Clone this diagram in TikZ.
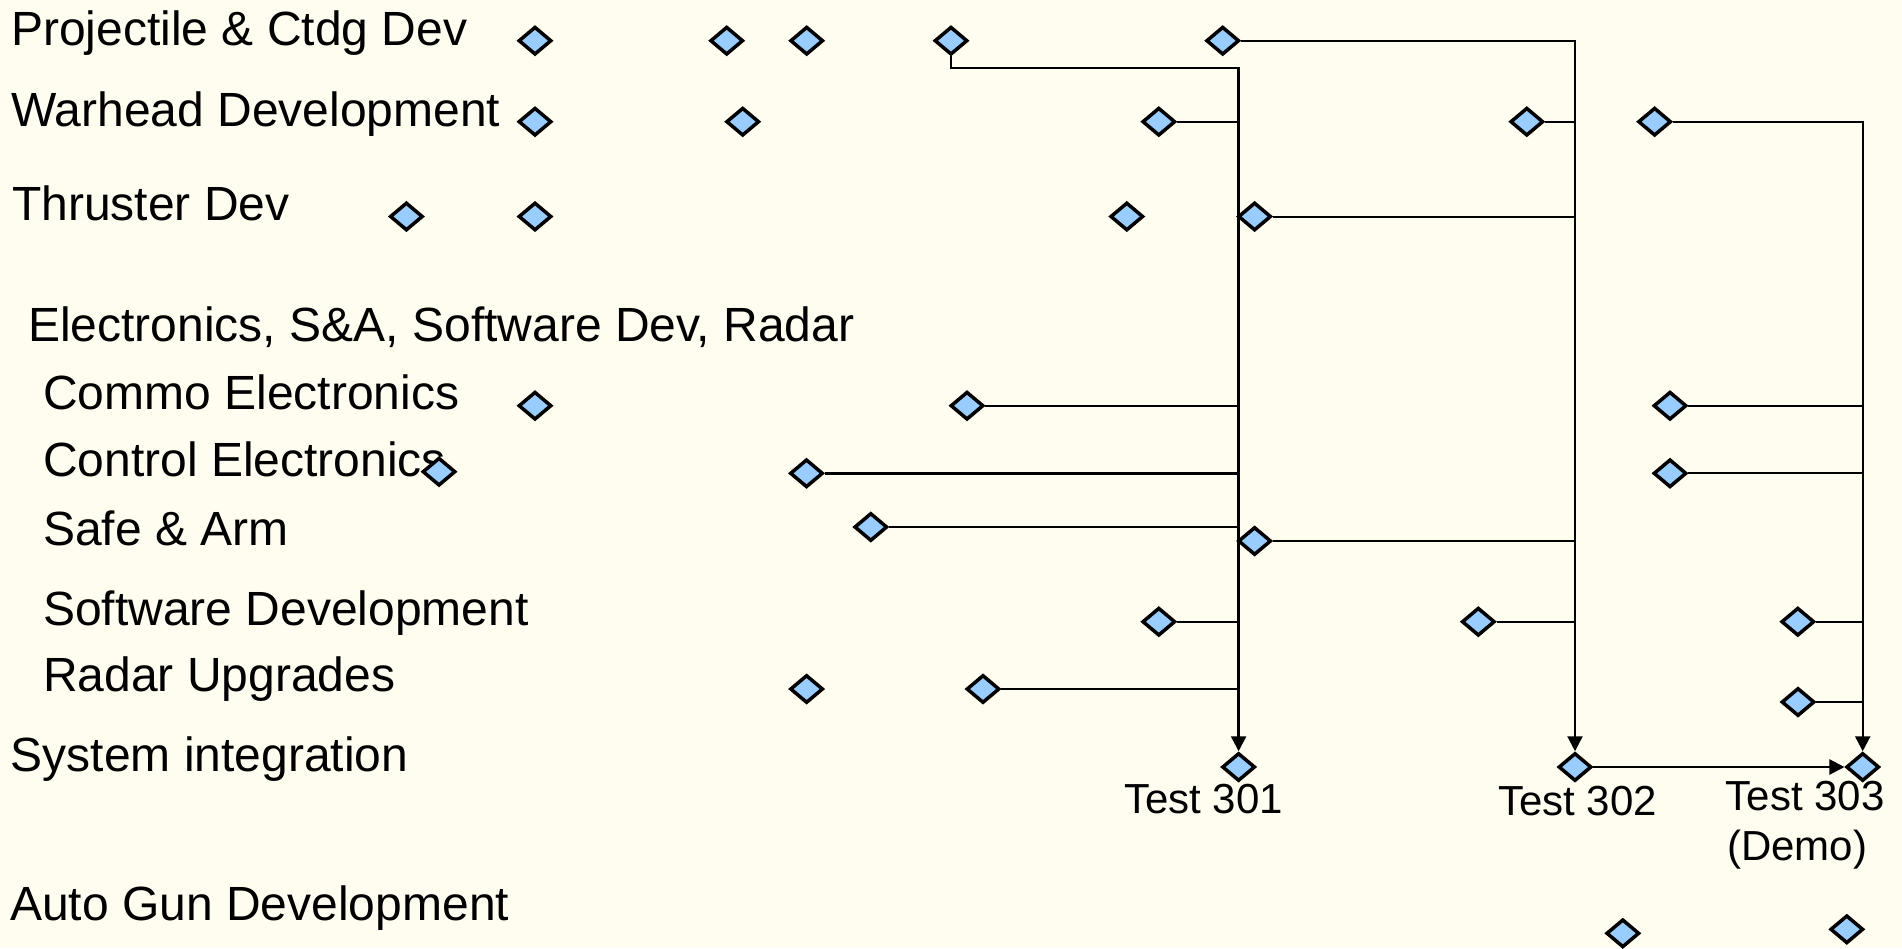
\documentclass[tikz,border=0pt]{standalone}
\usepackage{fontspec}
\setmainfont{Liberation Sans}
\usetikzlibrary{shapes.geometric,arrows.meta}
\pgfdeclarelayer{background}
\pgfsetlayers{background,main}
\definecolor{paper}{RGB}{255,252,240}
\definecolor{milefill}{RGB}{153,204,255}

\begin{document}
\begin{tikzpicture}[x=1pt,y=-1pt,
  mile/.style={diamond,draw=black,fill=milefill,line width=3.5pt,inner sep=0pt,
               minimum width=33pt,minimum height=28pt},
  lbl/.style={anchor=base west,inner sep=0pt,font=\fontsize{48}{56}\selectfont},
  tlbl/.style={anchor=base west,inner sep=0pt,font=\fontsize{42}{48}\selectfont},
  link/.style={line width=2pt},
  heavy/.style={line width=2.8pt},
  feed/.style={line width=2.3pt,-{Triangle[length=15pt,width=15pt]}},
]
\path[use as bounding box] (0,0) rectangle (1902,948);

% row labels
\node[lbl] (lp) at (11,45)  {Projectile \& Ctdg Dev};
\node[lbl] (lw) at (11,126) {Warhead Development};
\node[lbl] (lh) at (12,220)   {Thruster Dev};
\node[lbl] (le) at (28,341.7) {Electronics, S\&A, Software Dev, Radar};
\node[lbl] (lc) at (43,409.3) {Commo Electronics};
\node[lbl] (lk) at (43,476)   {Control Electronics};
\node[lbl] (ls) at (43,545)   {Safe \& Arm};
\node[lbl] (lf) at (43,625)   {Software Development};
\node[lbl] (lr) at (43,691.7) {Radar Upgrades};
\node[lbl] (li) at (10.5,771.7) {System integration};
\node[lbl] (la) at (10,920.7) {Auto Gun Development};

% milestones
\node[mile] (p1) at (535,40.7) {};
\node[mile] (p2) at (726.7,40.7) {};
\node[mile] (p3) at (806.7,40.7) {};
\node[mile] (p4) at (951,40.7) {};
\node[mile] (p5) at (1222.7,40.7) {};

\node[mile] (w1) at (535,121.7) {};
\node[mile] (w2) at (742.7,121.7) {};
\node[mile] (w3) at (1158.8,121.7) {};
\node[mile] (w4) at (1526.8,121.7) {};
\node[mile] (w5) at (1654.6,121.7) {};

\node[mile] (h1) at (406.4,216.5) {};
\node[mile] (h2) at (535,216.5) {};
\node[mile] (h3) at (1126.8,216.5) {};
\node[mile] (h4) at (1254.6,216.5) {};

\node[mile] (c1) at (535,405.7) {};
\node[mile] (c2) at (967,405.7) {};
\node[mile] (c3) at (1670,405.7) {};

\node[mile] (k1) at (439,471.7) {};
\node[mile] (k2) at (806.5,473.3) {};
\node[mile] (k3) at (1670,473.3) {};

\node[mile] (s1) at (870.8,527) {};
\node[mile] (s2) at (1254.6,541) {};

\node[mile] (f1) at (1158.8,621.7) {};
\node[mile] (f2) at (1478.3,621.7) {};
\node[mile] (f3) at (1797.8,621.7) {};

\node[mile] (r1) at (806.6,689) {};
\node[mile] (r2) at (983,689) {};
\node[mile] (r3) at (1798,702) {};

\node[mile] (t1) at (1238.6,767) {};
\node[mile] (t2) at (1575,767) {};
\node[mile] (t3) at (1862.7,767) {};

\node[mile] (a1) at (1622.8,933.3) {};
\node[mile] (a2) at (1846.8,929.3) {};

% test labels
\node[tlbl] (lt1) at (1124,813) {Test 301};
\node[tlbl] (lt2) at (1498,815) {Test 302};
\node[tlbl] (lt3) at (1725.5,810) {Test 303};
\node[tlbl] (lt4) at (1727,860) {(Demo)};

\coordinate (j1) at (1238.6,68.3);

\begin{pgfonlayer}{background}
  % page
  \fill[paper] (0,0) rectangle (1902,948);

  % feeds into the three tests
  \draw[feed] (p4.south) |- (j1) -- (t1.north);
  \draw[feed] (p5.east) -| (t2.north);
  \draw[feed] (w5.east) -| (t3.north);
  \draw[feed] (t2.east) -- (t3.west);

  % branches into Test 301
  \draw[link]  (w3.east) -- (w3 -| t1);
  \draw[link]  (c2.east) -- (c2 -| t1);
  \draw[heavy] (k2.east) -- (k2 -| t1);
  \draw[heavy] (s1.east) -- (s1 -| t1);
  \draw[link]  (f1.east) -- (f1 -| t1);
  \draw[link]  (r2.east) -- (r2 -| t1);

  % branches into Test 302
  \draw[link] (w4.east) -- (w4 -| t2);
  \draw[link] (h4.east) -- (h4 -| t2);
  \draw[link] (s2.east) -- (s2 -| t2);
  \draw[link] (f2.east) -- (f2 -| t2);

  % branches into Test 303
  \draw[link] (c3.east) -- (c3 -| t3);
  \draw[link] (k3.east) -- (k3 -| t3);
  \draw[link] (f3.east) -- (f3 -| t3);
  \draw[link] (r3.east) -- (r3 -| t3);
\end{pgfonlayer}
\end{tikzpicture}
\end{document}
